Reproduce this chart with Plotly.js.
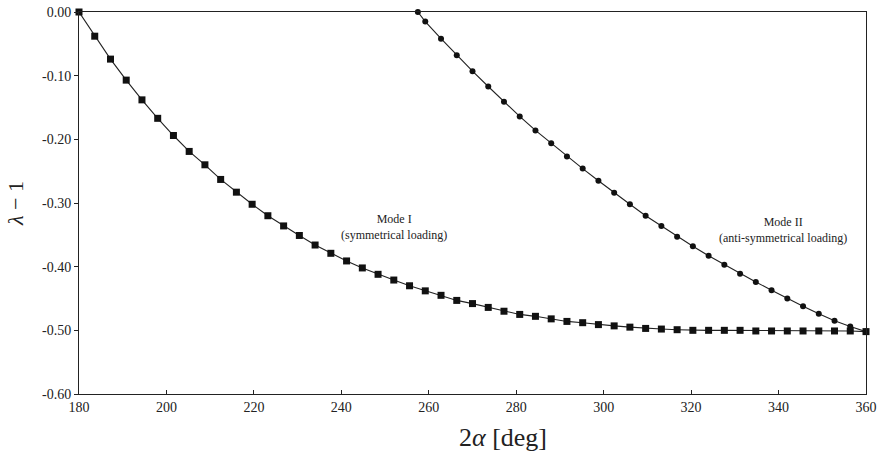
<!DOCTYPE html>
<html>
<head>
<meta charset="utf-8">
<script src="https://cdn.plot.ly/plotly-3.0.1.min.js"></script>
<style>html,body{margin:0;padding:0;background:#fff;}#chart{width:880px;height:454px;}</style>
</head>
<body>
<div id="chart"></div>
<script>
// Mode I (symmetrical loading) — square markers
const modeI_x = [180.0,183.6,187.2,190.8,194.4,198.0,201.6,205.2,208.8,212.4,
  216.0,219.6,223.2,226.8,230.4,234.0,237.6,241.2,244.8,248.4,
  252.0,255.6,259.2,262.8,266.4,270.0,273.6,277.2,280.8,284.4,
  288.0,291.6,295.2,298.8,302.4,306.0,309.6,313.2,316.8,320.4,
  324.0,327.6,331.2,334.8,338.4,342.0,345.6,349.2,352.8,356.4,360.0];
const modeI_y = [0.000,-0.038,-0.074,-0.107,-0.138,-0.167,-0.194,-0.219,-0.240,-0.263,
  -0.283,-0.302,-0.320,-0.336,-0.351,-0.366,-0.379,-0.391,-0.402,-0.412,
  -0.421,-0.430,-0.438,-0.445,-0.453,-0.458,-0.464,-0.470,-0.475,-0.478,
  -0.482,-0.486,-0.488,-0.491,-0.493,-0.495,-0.497,-0.498,-0.499,-0.500,
  -0.500,-0.500,-0.500,-0.501,-0.501,-0.501,-0.501,-0.501,-0.501,-0.501,-0.502];

// Mode II (anti-symmetrical loading) — circle markers
const modeII_x = [257.5,259.2,262.8,266.4,270.0,273.6,277.2,280.8,284.4,288.0,
  291.6,295.2,298.8,302.4,306.0,309.6,313.2,316.8,320.4,324.0,
  327.6,331.2,334.8,338.4,342.0,345.6,349.2,352.8,356.4,360.0];
const modeII_y = [0.000,-0.015,-0.042,-0.068,-0.093,-0.117,-0.141,-0.164,-0.186,-0.206,
  -0.227,-0.246,-0.265,-0.284,-0.302,-0.320,-0.336,-0.353,-0.368,-0.383,
  -0.397,-0.411,-0.424,-0.437,-0.450,-0.462,-0.474,-0.485,-0.494,-0.502];

const xTickVals = [180,200,220,240,260,280,300,320,340,360];
const xTickText = ["180","200","220","240","260","280","300","320","340","360"];
const yTickVals = [0,-0.1,-0.2,-0.3,-0.4,-0.5,-0.6];
const yTickText = ["0.00","-0.10","-0.20","-0.30","-0.40","-0.50","-0.60"];

const serif = "Liberation Serif, Times New Roman, serif";

const traces = [
  {x: modeI_x, y: modeI_y, type: "scatter", mode: "lines+markers", cliponaxis: false,
   line: {color: "#222", width: 1.1},
   marker: {symbol: "square", size: 7, color: "#111"}, showlegend: false},
  {x: modeII_x, y: modeII_y, type: "scatter", mode: "lines+markers", cliponaxis: false,
   line: {color: "#222", width: 1.1},
   marker: {symbol: "circle", size: 6, color: "#111"}, showlegend: false}
];

const layout = {
  width: 880, height: 454,
  margin: {l: 79, r: 14, t: 12, b: 60},
  paper_bgcolor: "#fff", plot_bgcolor: "#fff",
  font: {family: serif, color: "#222", size: 12},
  xaxis: {range: [180, 360], tickvals: xTickVals, ticktext: xTickText,
    ticks: "inside", ticklen: 4, tickcolor: "#222",
    showline: true, linecolor: "#222", linewidth: 1, mirror: true,
    showgrid: false, zeroline: false,
    tickfont: {family: serif, size: 14, color: "#222"}},
  yaxis: {range: [-0.6, 0], tickvals: yTickVals, ticktext: yTickText,
    ticks: "outside", ticklen: 4, tickcolor: "#222",
    showline: true, linecolor: "#222", linewidth: 1, mirror: true,
    showgrid: false, zeroline: false,
    tickfont: {family: serif, size: 14, color: "#222"},
    title: {text: "<i>λ</i> − 1", font: {family: serif, size: 22, color: "#222"}, standoff: 12}},
  annotations: [
    {x: 277, y: -0.113, xref: "x", yref: "paper", showarrow: false,
     xanchor: "center", yanchor: "middle",
     text: "2<i>α</i> [deg]", font: {family: serif, size: 26, color: "#222"}},
    {x: 252.1, y: -0.338, xref: "x", yref: "y", showarrow: false,
     text: "Mode I<br>(symmetrical loading)", align: "center",
     font: {family: serif, size: 12, color: "#222"}},
    {x: 341, y: -0.343, xref: "x", yref: "y", showarrow: false,
     text: "Mode II<br>(anti-symmetrical loading)", align: "center",
     font: {family: serif, size: 12, color: "#222"}}
  ]
};

Plotly.newPlot("chart", traces, layout, {staticPlot: true, displayModeBar: false});
</script>
</body>
</html>
